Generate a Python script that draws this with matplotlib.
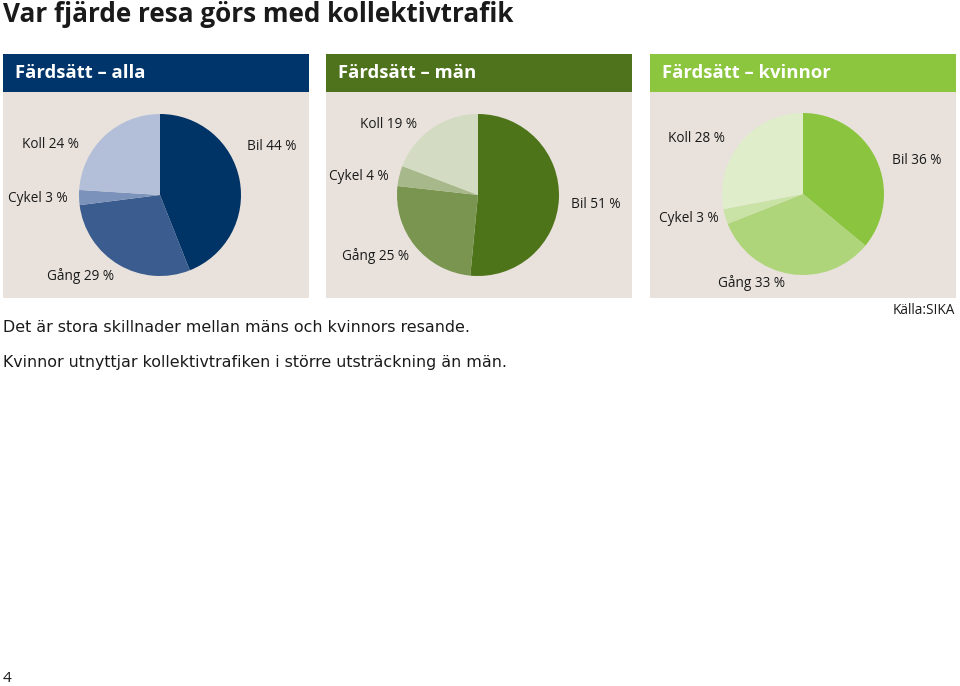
import matplotlib
matplotlib.use("Agg")
import matplotlib.pyplot as plt
from matplotlib.patches import Rectangle

# data
modes = ["Bil", "Gång", "Cykel", "Koll"]
alla = [44, 29, 3, 24]
man = [51, 25, 4, 19]
kvinnor = [36, 33, 3, 28]
headers = ["Färdsätt \u2013 alla", "Färdsätt \u2013 män", "Färdsätt \u2013 kvinnor"]

header_colors = ["#00356b", "#4e731c", "#8cc63f"]
slice_colors = [
    ["#003366", "#3a5c8e", "#7b92bb", "#b3bfd8"],
    ["#4e7419", "#7a9550", "#a7b98a", "#d3dcc3"],
    ["#8bc53f", "#afd57b", "#c9e2a5", "#dfedcb"],
]
bg = "#e9e2dc"

W, H = 960, 686
fig = plt.figure(figsize=(9.6, 6.86), dpi=100)
ax = fig.add_axes([0, 0, 1, 1])


def Y(py):
    # pixel row -> data y
    return H - py


panel_x = [3, 326, 650]
panel_w = 306
centers = [(160, 195), (478, 195), (803, 194)]
label_pos = [
    {"Bil": (247, 146), "Gång": (47, 276), "Cykel": (8, 199), "Koll": (22, 144)},
    {"Bil": (571, 204), "Gång": (342, 256), "Cykel": (329, 177), "Koll": (360, 125)},
    {"Bil": (892, 160), "Gång": (718, 283), "Cykel": (659, 219), "Koll": (668, 138)},
]

for i, vals in enumerate([alla, man, kvinnor]):
    x0 = panel_x[i]
    ax.add_patch(Rectangle((x0, Y(298)), panel_w, 206, color=bg, lw=0))
    ax.add_patch(Rectangle((x0, Y(92)), panel_w, 38, color=header_colors[i], lw=0))
    ax.text(x0 + 12, Y(73), headers[i], color="white", fontsize=13.3,
            fontweight="bold", family="Open Sans", va="center", ha="left")
    cx, cy = centers[i]
    ax.pie(vals, colors=slice_colors[i], startangle=90, counterclock=False,
           center=(cx, Y(cy)), radius=81, frame=True,
           wedgeprops=dict(linewidth=0))
    for m, v in zip(modes, vals):
        lx, ly = label_pos[i][m]
        ax.text(lx, Y(ly), f"{m} {v} %", fontsize=9.8, family="Open Sans",
                color="#1a1a1a", va="center", ha="left")

ax.text(3, Y(14), "Var fjärde resa görs med kollektivtrafik", fontsize=18.8,
        fontweight="bold", family="Open Sans", color="#1a1a1a",
        va="center", ha="left")
ax.text(955, Y(311), "Källa:SIKA", fontsize=9.8, family="Open Sans",
        color="#1a1a1a", va="center", ha="right")
ax.text(3, Y(327), "Det är stora skillnader mellan mäns och kvinnors resande.",
        fontsize=11.4, family="DejaVu Sans", color="#1a1a1a", va="center", ha="left")
ax.text(3, Y(362), "Kvinnor utnyttjar kollektivtrafiken i större utsträckning än män.",
        fontsize=11.4, family="DejaVu Sans", color="#1a1a1a", va="center", ha="left")
ax.text(3, Y(678), "4", fontsize=11, family="Open Sans", color="#1a1a1a",
        va="center", ha="left")

ax.set_xlim(0, W)
ax.set_ylim(0, H)
ax.set_aspect("equal")
ax.axis("off")

fig.savefig("out.png", dpi=100, facecolor="white")
